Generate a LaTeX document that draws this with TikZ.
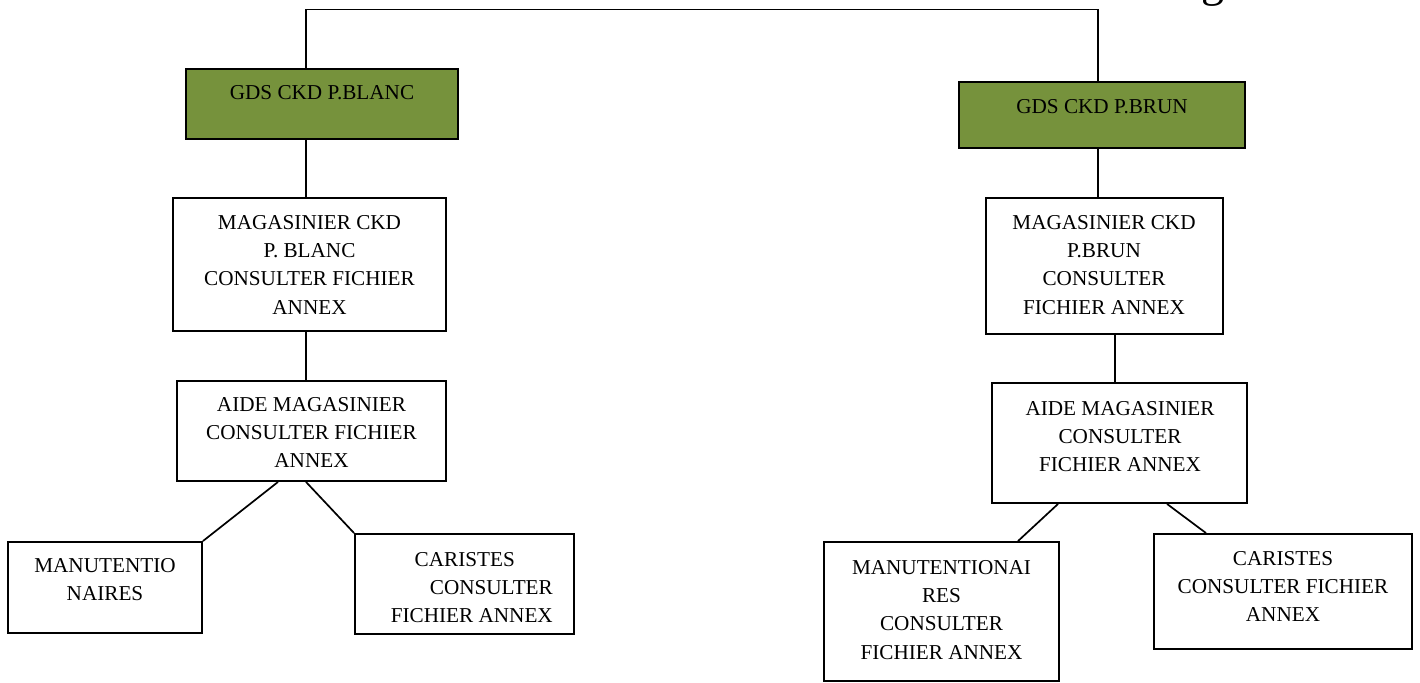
\documentclass[tikz,border=0pt]{standalone}
\usepackage{fontspec}
\setmainfont{Liberation Serif}
\definecolor{oliveg}{HTML}{76923C}
\begin{document}
\begin{tikzpicture}[x=1pt,y=-1pt,
  box/.style={draw=black, line width=1.9pt, inner sep=0pt},
  headbox/.style={box, fill=oliveg},
  lbl/.style={inner sep=0pt, align=center, anchor=north,
              font=\fontsize{21.2}{28.3}\selectfont},
  link/.style={line width=1.7pt}]
\useasboundingbox (0,0) rectangle (1420,682);

% clipped letter at the upper edge
\begin{scope}
  \clip (0,0) rectangle (1420,682);
  \node[anchor=base west, inner sep=0pt, font=\fontsize{46}{46}\selectfont] (cut) at (1201,-3.5) {g};
\end{scope}

% boxes
\node[headbox, minimum width=272pt, minimum height=70pt] (g1) at (322,104) {};
\node[headbox, minimum width=286pt, minimum height=66pt] (g2) at (1102,115) {};
\node[box, minimum width=273pt, minimum height=133pt] (m1) at (309.5,264.5) {};
\node[box, minimum width=237pt, minimum height=136pt] (m2) at (1104.2,266) {};
\node[box, minimum width=269pt, minimum height=100pt] (a1) at (311.5,431) {};
\node[box, minimum width=255pt, minimum height=120pt] (a2) at (1119.5,443) {};
\node[box, minimum width=194pt, minimum height=91pt] (n1) at (105,587.5) {};
\node[box, minimum width=219pt, minimum height=100pt] (c1) at (464.5,584) {};
\node[box, minimum width=235pt, minimum height=139pt] (n2) at (941.5,611.5) {};
\node[box, minimum width=258pt, minimum height=115pt] (c2) at (1283,591.5) {};

% texts
\node[lbl] (g1t) at (322,85) {GDS CKD P.BLANC};
\node[lbl] (g2t) at (1102,99.5) {GDS CKD P.BRUN};
\node[lbl] (m1t) at (309.5,215) {MAGASINIER CKD\\P. BLANC\\CONSULTER FICHIER\\ANNEX};
\node[lbl] (m2t) at (1104,215) {MAGASINIER CKD\\P.BRUN\\CONSULTER\\FICHIER ANNEX};
\node[lbl] (a1t) at (311.5,397) {AIDE MAGASINIER\\CONSULTER FICHIER\\ANNEX};
\node[lbl] (a2t) at (1120,401) {AIDE MAGASINIER\\CONSULTER\\FICHIER ANNEX};
\node[lbl] (n1t) at (105,558) {MANUTENTIO\\NAIRES};
\node[lbl, align=right, anchor=north east] (c1t) at (553,552) {CARISTES\hspace*{38pt}\\CONSULTER\\FICHIER ANNEX};
\node[lbl] (n2t) at (941.5,560) {MANUTENTIONAI\\RES\\CONSULTER\\FICHIER ANNEX};
\node[lbl] (c2t) at (1283,551) {CARISTES\\CONSULTER FICHIER\\ANNEX};

% connector guides
\coordinate (lx) at (306,9.5);
\coordinate (rx) at (1098,9.5);
\coordinate (rx2) at (1115,0);

% connectors
\draw[link] (g1.north -| lx) -- (lx) -- (rx) -- (g2.north -| rx);
\draw[link] (g1.south -| lx) -- (m1.north -| lx);
\draw[link] (m1.south -| lx) -- (a1.north -| lx);
\draw[link] (g2.south -| rx) -- (m2.north -| rx);
\draw[link] (m2.south -| rx2) -- (a2.north -| rx2);
\draw[link] ([xshift=-33.5pt]a1.south) -- (n1.north east);
\draw[link] (a1.south -| lx) -- (c1.north west);
\draw[link] ([xshift=-61.5pt]a2.south) -- ([xshift=76.5pt]n2.north);
\draw[link] ([xshift=47.5pt]a2.south) -- ([xshift=-77pt]c2.north);
\end{tikzpicture}
\end{document}
